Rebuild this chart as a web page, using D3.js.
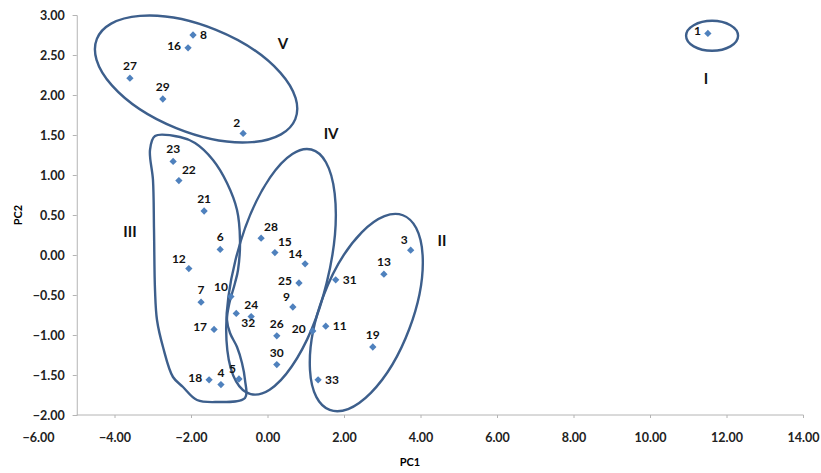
<!DOCTYPE html>
<html>
<head>
<meta charset="utf-8">
<script src="https://cdn.jsdelivr.net/npm/d3@7"></script>
<style>
  html, body { margin: 0; padding: 0; background: #fff; }
  svg { display: block; }
  text { font-family: Lato, "Open Sans", sans-serif; }
</style>
</head>
<body>
<svg id="chart" width="821" height="473"></svg>
<script>
// ---- data ----
const ids = ["1","2","3","4","5","6","7","8","9","10","11","12","13","14","15","16","17","18","19","20","21","22","23","24","25","26","27","28","29","30","31","32","33"];
const pc1 = [11.50,-0.65,3.73,-1.23,-0.76,-1.25,-1.75,-1.96,0.65,-0.97,1.51,-2.07,3.03,0.97,0.18,-2.09,-1.41,-1.54,2.74,1.17,-1.67,-2.33,-2.48,-0.44,0.81,0.23,-3.61,-0.18,-2.75,0.23,1.77,-0.83,1.31];
const pc2 = [2.77,1.52,0.06,-1.62,-1.55,0.07,-0.59,2.75,-0.65,-0.52,-0.89,-0.17,-0.24,-0.11,0.03,2.59,-0.93,-1.56,-1.15,-0.95,0.55,0.93,1.17,-0.77,-0.35,-1.01,2.21,0.21,1.95,-1.37,-0.31,-0.73,-1.56];
// label placement relative to its point
const labelSide = ["l","tl","tl","t","tl","t","t","r","tl","tl","r","tl","t","tl","tr","l","l","l","t","l","t","tr","t","t","l","t","t","tr","t","t","r","br","r"];
const xTicks = [-6,-4,-2,0,2,4,6,8,10,12,14];
const yTicks = [-2,-1.5,-1,-0.5,0,0.5,1,1.5,2,2.5,3];
// group annotations (data-space centres)
const groupNames = ["I","II","III","IV","V"];
const groupLabelX = [11.45,4.55,-3.61,1.65,0.39];
const groupLabelY = [2.19,0.16,0.27,1.50,2.62];
const ellipseNames = ["I","II","IV","V"];
const ellipseCX = [11.61,2.57,0.34,-1.88];
const ellipseCY = [2.74,-0.72,-0.21,2.20];
const ellipseA = [26,104,126,107];   // semi-axes (px)
const ellipseB = [15,46,47,53];
const ellipseRot = [0,-69.4,-76.1,22]; // degrees
const shapeIIIx = [-2.954,-2.301,-1.908,-1.438,-1.072,-0.810,-0.732,-0.784,-0.863,-1.02,-1.072,-0.993,-0.810,-0.680,-0.601,-0.601,-1.333,-1.856,-2.222,-2.484,-2.745,-2.902,-2.954,-2.980,-3.007,-3.085];
const shapeIIIy = [1.488,1.475,1.40,1.188,0.90,0.5625,0.1875,-0.1875,-0.35,-0.625,-0.8125,-0.975,-1.15,-1.35,-1.5625,-1.7875,-1.8375,-1.8125,-1.65,-1.525,-1.15,-0.8125,-0.4375,0.3125,0.9375,1.3125];

// ---- chart ----
const svg = d3.select("#chart");
const x = d3.scaleLinear().domain([-6,14]).range([38.5,803.5]);
const y = d3.scaleLinear().domain([-2,3]).range([415,15]);
const axisColor = "#b4b4b4";
const outline = "#3d5f8c";
const pointColor = "#4f81bd";

// y axis (drawn at x=-5 as in the reference)
const yAxis = svg.append("g").attr("transform",`translate(${x(-5)},0)`)
  .call(d3.axisLeft(y).tickValues(yTicks).tickFormat(d3.format(".2f")).tickSize(4).tickPadding(8));
yAxis.select(".domain").attr("stroke",axisColor);
yAxis.selectAll(".tick line").attr("stroke",axisColor);
yAxis.selectAll(".tick text").attr("font-size","12.5px").attr("font-weight","bold").attr("fill","#222");

// x axis
const xg = svg.append("g").attr("transform",`translate(0,${y(-2)})`);
xg.append("line").attr("x1",x(-5)).attr("x2",x(14)).attr("stroke",axisColor);
xg.selectAll(".xt").data(xTicks.filter(d=>d>-6)).join("line")
  .attr("x1",d=>x(d)).attr("x2",d=>x(d)).attr("y1",0).attr("y2",3).attr("stroke",axisColor);
xg.selectAll(".xl").data(xTicks).join("text")
  .attr("x",d=>x(d)).attr("y",27).attr("text-anchor","middle")
  .attr("font-size","12.5px").attr("font-weight","bold").attr("fill","#222")
  .text(d=>d3.format(".2f")(d));

svg.append("text").attr("x",410).attr("y",466).attr("text-anchor","middle")
  .attr("font-size","11px").attr("font-weight","bold").text("PC1");
svg.append("text").attr("transform","translate(22,215) rotate(-90)").attr("text-anchor","middle")
  .attr("font-size","11px").attr("font-weight","bold").text("PC2");

// ellipses
svg.selectAll(".ell").data(ellipseNames).join("ellipse")
  .attr("cx",0).attr("cy",0)
  .attr("rx",(d,i)=>ellipseA[i]).attr("ry",(d,i)=>ellipseB[i])
  .attr("transform",(d,i)=>`translate(${x(ellipseCX[i])},${y(ellipseCY[i])}) rotate(${ellipseRot[i]})`)
  .attr("fill","none").attr("stroke",outline).attr("stroke-width",2.4);

// freehand group III
const pts = shapeIIIx.map((v,i)=>[x(v),y(shapeIIIy[i])]);
svg.append("path").attr("d",d3.line().curve(d3.curveCatmullRomClosed.alpha(0.5))(pts))
  .attr("fill","none").attr("stroke",outline).attr("stroke-width",2.4);

// points
const sym = d3.symbol().type(d3.symbolDiamond2).size(34);
svg.selectAll(".pt").data(ids).join("path")
  .attr("d",sym)
  .attr("transform",(d,i)=>`translate(${x(pc1[i])},${y(pc2[i])})`)
  .attr("fill",pointColor);

// point labels
const off = {t:[0,-8,"middle"],tl:[-3,-6,"end"],tr:[3,-7,"start"],l:[-7,2,"end"],r:[7,4,"start"],br:[5,14,"start"]};
svg.selectAll(".pl").data(ids).join("text")
  .attr("x",(d,i)=>x(pc1[i])+off[labelSide[i]][0])
  .attr("y",(d,i)=>y(pc2[i])+off[labelSide[i]][1])
  .attr("text-anchor",(d,i)=>off[labelSide[i]][2])
  .attr("font-size","12px").attr("font-weight","bold").attr("fill","#111")
  .text(d=>d);

// group labels
svg.selectAll(".gl").data(groupNames).join("text")
  .attr("x",(d,i)=>x(groupLabelX[i])).attr("y",(d,i)=>y(groupLabelY[i]))
  .attr("text-anchor","middle").attr("dominant-baseline","middle")
  .attr("font-family","Liberation Sans, Arial, sans-serif")
  .attr("font-size","15px").attr("font-weight","bold").attr("fill","#111")
  .text(d=>d);
</script>
</body>
</html>
